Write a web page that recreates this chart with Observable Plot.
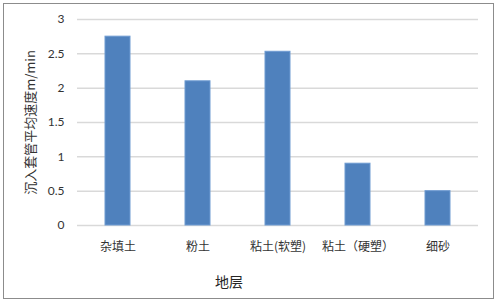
<!DOCTYPE html>
<html>
<head>
<meta charset="utf-8">
<script src="https://cdn.jsdelivr.net/npm/d3@7"></script>
<script src="https://cdn.jsdelivr.net/npm/@observablehq/plot@0.6"></script>
<style>
  html, body { margin: 0; padding: 0; background: #fff; }
  #wrap { position: relative; width: 496px; height: 302px; }
  #border { position: absolute; left: 3px; top: 3px; width: 489px; height: 294px; border: 1.5px solid #8c8c8c; pointer-events: none; }
</style>
</head>
<body>
<div id="wrap"><div id="border"></div></div>
<script>
const categories = ["杂填土", "粉土", "粘土(软塑)", "粘土（硬塑）", "细砂"];
const values = [2.75, 2.1, 2.53, 0.9, 0.5];
const yTicks = [0, 0.5, 1, 1.5, 2, 2.5, 3];
const xLabel = "地层";
const yLabel = "沉入套管平均速度m/min";

const data = categories.map((c, i) => ({layer: c, speed: values[i]}));

const chart = Plot.plot({
  width: 496,
  height: 302,
  marginLeft: 77,
  marginRight: 18,
  marginTop: 19,
  marginBottom: 77,
  style: {fontFamily: "Lato, 'Noto Sans CJK SC', sans-serif", fontSize: "12px", color: "#333333", background: "transparent"},
  x: {domain: categories, paddingInner: 0.69, paddingOuter: 0.345, align: 0.5, label: null},
  y: {domain: [0, 3], ticks: yTicks, label: null},
  marks: [
    Plot.ruleY(yTicks, {stroke: "#d9d9d9", strokeWidth: 1.5}),
    Plot.barY(data, {x: "layer", y: "speed", fill: "#4f81bd", stroke: "#6e9bd2", strokeWidth: 1}),
    Plot.axisY({ticks: yTicks, tickSize: 0, tickPadding: 13, tickFormat: d => String(d),
      fontSize: 12, label: null}),
    Plot.axisX({tickSize: 0, tickPadding: 17, fontSize: 12,
      fontFamily: "'Noto Sans CJK SC', sans-serif", label: null}),
    Plot.text([yLabel], {frameAnchor: "left", textAnchor: "middle", rotate: -90, dx: -47, fontSize: 13,
      fontFamily: "'Noto Sans CJK SC', sans-serif", fill: "#333333"}),
    Plot.text([xLabel], {frameAnchor: "bottom", dx: -49, dy: 61, fontSize: 14,
      fontFamily: "'Noto Sans CJK SC', sans-serif", fill: "#262626"})
  ]
});
document.getElementById("wrap").prepend(chart);
</script>
</body>
</html>
